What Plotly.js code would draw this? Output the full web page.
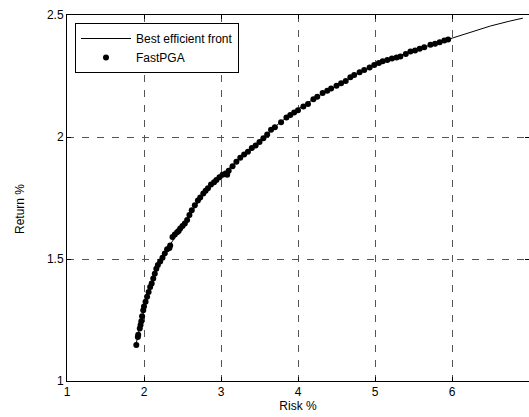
<!DOCTYPE html>
<html>
<head>
<meta charset="utf-8">
<script src="https://cdn.plot.ly/plotly-3.0.1.min.js"></script>
<style>html,body{margin:0;padding:0;overflow:hidden;background:#fff}</style>
</head>
<body>
<div id="chart" style="width:529px;height:417px"></div>
<script>
// Best efficient front (line)
const frontX = [1.89,1.93,2.0,2.1,2.2,2.3,2.5,2.75,3.0,3.25,3.5,3.75,4.0,4.25,4.5,4.75,5.0,5.25,5.5,5.75,6.0,6.25,6.5,6.75,6.92];
const frontY = [1.14,1.20,1.29,1.40,1.48,1.54,1.635,1.755,1.84,1.915,1.985,2.055,2.115,2.165,2.21,2.255,2.295,2.325,2.355,2.38,2.405,2.43,2.455,2.475,2.487];

// FastPGA (points)
const fastX = [1.90,1.92,1.925,1.945,1.955,1.965,1.975,1.99,2.00,2.02,2.04,2.06,2.08,2.10,2.12,2.14,2.16,2.18,2.21,2.24,2.27,2.30,2.33,2.34,2.37,2.40,2.43,2.45,2.47,2.50,2.53,2.56,2.59,2.62,2.66,2.70,2.73,2.77,2.80,2.83,2.87,2.91,2.94,2.98,3.02,3.06,3.08,3.10,3.15,3.20,3.25,3.30,3.35,3.40,3.45,3.50,3.55,3.60,3.65,3.70,3.78,3.85,3.90,3.95,4.00,4.07,4.13,4.20,4.25,4.32,4.38,4.43,4.50,4.56,4.62,4.68,4.73,4.80,4.86,4.93,4.99,5.05,5.10,5.16,5.22,5.28,5.33,5.40,5.46,5.52,5.58,5.64,5.72,5.78,5.84,5.90,5.95];
const fastY = [1.148,1.18,1.19,1.215,1.23,1.245,1.265,1.29,1.305,1.325,1.345,1.365,1.385,1.40,1.42,1.44,1.46,1.475,1.49,1.505,1.523,1.54,1.545,1.555,1.59,1.60,1.61,1.615,1.625,1.635,1.645,1.66,1.68,1.70,1.72,1.74,1.752,1.768,1.78,1.79,1.805,1.815,1.824,1.835,1.845,1.85,1.845,1.862,1.88,1.899,1.915,1.928,1.94,1.955,1.965,1.98,1.995,2.01,2.03,2.04,2.06,2.08,2.09,2.10,2.11,2.125,2.135,2.155,2.165,2.18,2.19,2.199,2.21,2.22,2.23,2.245,2.254,2.265,2.275,2.285,2.295,2.303,2.31,2.316,2.322,2.326,2.33,2.34,2.35,2.355,2.362,2.368,2.378,2.382,2.388,2.395,2.40];

const xTicks = [1,2,3,4,5,6,7];
const yTicks = [1,1.5,2,2.5];
const yTitle = "Return %";
const xTitle = "Risk %";

const FONT = "Liberation Sans, Arial, sans-serif";
const W = 529, H = 417, M = {l:67, r:0, t:15, b:36};
const plotH = H - M.t - M.b, plotW = W - M.l - M.r;

const traces = [
  {x: frontX, y: frontY, mode:'lines', name:'Best efficient front',
   line:{color:'#000', width:1}},
  {x: fastX, y: fastY, mode:'markers', name:'FastPGA',
   marker:{color:'#000', size:6}}
];

const axisCommon = {
  showline:true, linecolor:'#000', linewidth:1, mirror:'ticks',
  ticks:'inside', ticklen:4, tickcolor:'#000',
  showgrid:true, gridcolor:'#555', griddash:'7px,8px', gridwidth:1,
  zeroline:false, tickfont:{family:FONT, size:12, color:'#000'}
};

const layout = {
  width:W, height:H, margin:M,
  paper_bgcolor:'#fff', plot_bgcolor:'#fff',
  font:{family:FONT, size:12, color:'#000'},
  showlegend:true,
  legend:{x:8/plotW, y:1 - 8/plotH, xanchor:'left', yanchor:'top',
    bgcolor:'#fff', bordercolor:'#000', borderwidth:1, itemwidth:50,
    font:{family:FONT, size:12, color:'#000'}, tracegroupgap:0},
  xaxis: Object.assign({}, axisCommon, {range:[1,7], tickvals:xTicks,
    title:{text:xTitle, font:{family:FONT,size:12,color:'#000'}, standoff:2}}),
  yaxis: Object.assign({}, axisCommon, {range:[1,2.5], tickvals:yTicks,
    ticktext: yTicks.map(v=>String(v))}),
  annotations: [{
    text: yTitle, xref:'paper', yref:'paper', textangle:-90,
    x: (20 - M.l)/plotW, y: 1 - (209 - M.t)/plotH,
    xanchor:'center', yanchor:'middle', showarrow:false,
    font:{family:FONT, size:12, color:'#000'}
  }]
};

Plotly.newPlot('chart', traces, layout, {staticPlot:true, displayModeBar:false});
</script>
</body>
</html>
